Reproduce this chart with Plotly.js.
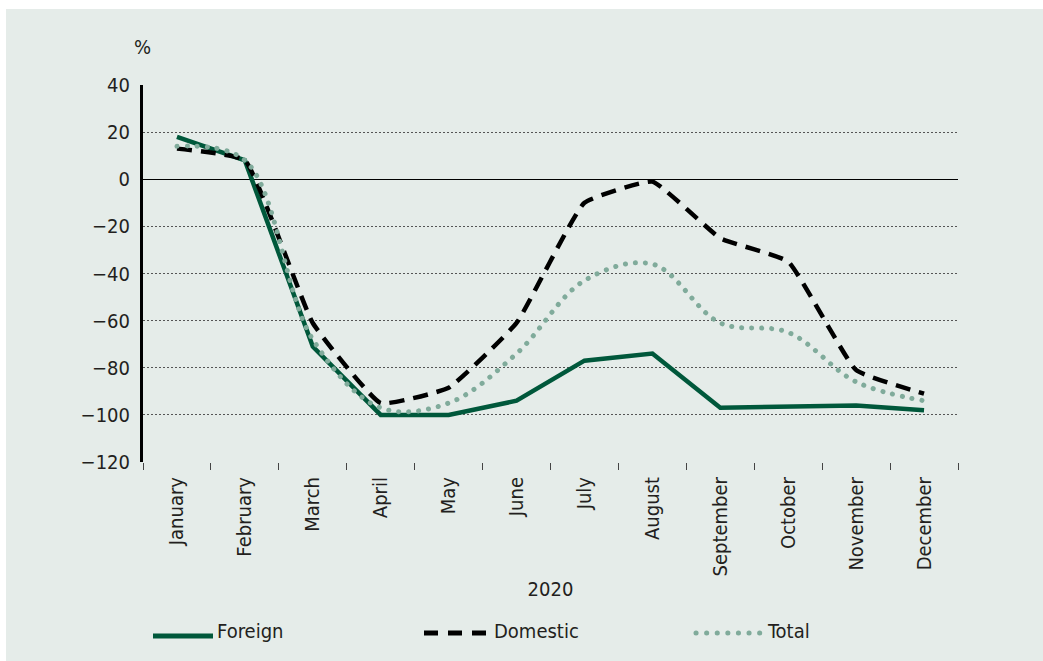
<!DOCTYPE html>
<html>
<head>
<meta charset="utf-8">
<script src="https://cdn.plot.ly/plotly-3.0.1.min.js"></script>
<style>
  html, body { margin: 0; padding: 0; background: #ffffff; width: 1043px; height: 661px; overflow: hidden; }
  #chart { position: absolute; left: 6px; top: 9px; width: 1037px; height: 652px; }
  .scatterlayer .trace:last-child path.js-line { stroke-linecap: round !important; }
  .shapelayer path[data-index="2"] { stroke-linecap: round !important; }
</style>
</head>
<body>
<div id="chart"></div>
<script>
const months = ["January", "February", "March", "April", "May", "June", "July", "August", "September", "October", "November", "December"];
const foreign = [18, 8, -71, -100, -100, -94, -77, -74, -97, -96.5, -96, -98];
const domestic = [13, 8, -61, -95, -88.5, -61, -10, -1, -25, -35, -81, -91];
const total = [14, 8, -68, -97, -95, -74, -43, -36, -61, -65, -86, -94];
const yTicks = [-120, -100, -80, -60, -40, -20, 0, 20, 40];
const seriesNames = ["Foreign", "Domestic", "Total"];

const FONT = "'Liberation Sans Narrow', 'DejaVu Sans Condensed', 'Roboto', sans-serif";
const FS = 20;
const TXT = "#231f20";
const GREEN = "#00583b";
const GREY_GREEN = "#80ab9b";

// plot area in page pixels: x 143..958, y 85..462
const PX0 = 143, PX1 = 958, PY0 = 85, PY1 = 462;
const px = v => (v - PX0) / (PX1 - PX0);
const py = v => (PY1 - v) / (PY1 - PY0);

const traces = [
  { x: months, y: foreign, name: seriesNames[0], type: "scatter", mode: "lines",
    line: { color: GREEN, width: 4.5 } },
  { x: months, y: domestic, name: seriesNames[1], type: "scatter", mode: "lines",
    line: { color: "#000000", width: 4.5, dash: "15px,9px", shape: "spline", smoothing: 0.35 } },
  { x: months, y: total, name: seriesNames[2], type: "scatter", mode: "lines",
    line: { color: GREY_GREEN, width: 5, dash: "0.1px,9.9px", shape: "spline", smoothing: 1 } }
];

const legendY = 633;
const shapes = [
  { type: "line", xref: "paper", yref: "paper", x0: px(153), x1: px(213), y0: py(636), y1: py(636),
    line: { color: GREEN, width: 5 } },
  { type: "line", xref: "paper", yref: "paper", x0: px(424), x1: px(486), y0: py(legendY), y1: py(legendY),
    line: { color: "#000000", width: 5, dash: "14px,10px" } },
  { type: "line", xref: "paper", yref: "paper", x0: px(696), x1: px(760), y0: py(legendY), y1: py(legendY),
    line: { color: GREY_GREEN, width: 5, dash: "0.1px,10.5px" } }
];

const annotations = [
  { text: "%", xref: "paper", yref: "paper", x: px(142), y: py(47), xanchor: "center", yanchor: "middle",
    showarrow: false, font: { family: FONT, size: FS, color: TXT } },
  { text: seriesNames[0], xref: "paper", yref: "paper", x: px(215), y: py(631), xanchor: "left", yanchor: "middle",
    showarrow: false, font: { family: FONT, size: FS, color: TXT } },
  { text: seriesNames[1], xref: "paper", yref: "paper", x: px(492), y: py(631), xanchor: "left", yanchor: "middle",
    showarrow: false, font: { family: FONT, size: FS, color: TXT } },
  { text: seriesNames[2], xref: "paper", yref: "paper", x: px(765), y: py(631), xanchor: "left", yanchor: "middle",
    showarrow: false, font: { family: FONT, size: FS, color: TXT } }
];

const layout = {
  width: 1037, height: 652,
  paper_bgcolor: "#e5ece9",
  plot_bgcolor: "rgba(0,0,0,0)",
  margin: { l: 137, r: 85, t: 76, b: 199, pad: 0 },
  showlegend: false,
  font: { family: FONT, size: FS, color: TXT },
  xaxis: {
    type: "category",
    range: [-0.5, 11.5],
    tickson: "boundaries",
    ticks: "outside", ticklen: 7, tickwidth: 1, tickcolor: "#444",
    tickangle: -90,
    ticklabelstandoff: 10,
    showgrid: false, zeroline: false, showline: false,
    tickfont: { family: FONT, size: FS, color: TXT },
    title: { text: "2020", font: { family: FONT, size: FS, color: TXT }, standoff: 6 },
    fixedrange: true
  },
  yaxis: {
    range: [-120, 40],
    tickvals: yTicks,
    ticks: "",
    showline: true, linewidth: 3, linecolor: "#000000",
    showgrid: true, gridcolor: "#555555", gridwidth: 1, griddash: "2px,2px",
    zeroline: true, zerolinecolor: "#000000", zerolinewidth: 1.5,
    tickfont: { family: FONT, size: FS, color: TXT },
    ticklabelstandoff: 6,
    fixedrange: true
  },
  shapes: shapes,
  annotations: annotations
};

Plotly.newPlot("chart", traces, layout, { displayModeBar: false, staticPlot: true });
</script>
</body>
</html>
